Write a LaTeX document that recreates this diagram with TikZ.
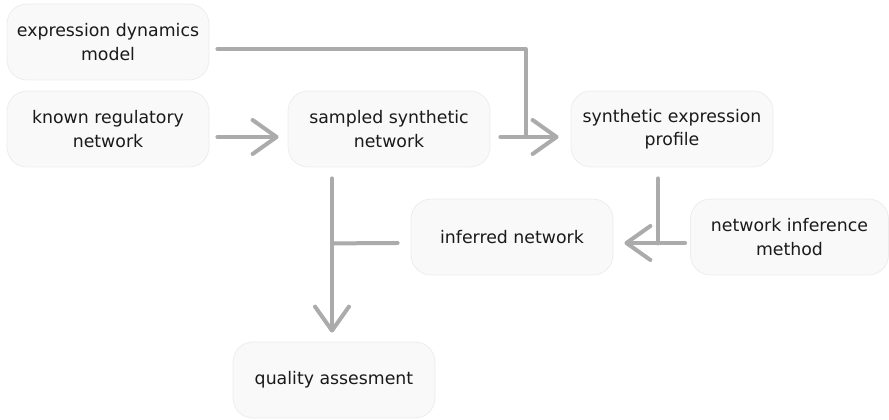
\documentclass[tikz,border=0pt]{standalone}
\usepackage{fontspec}
\setmainfont{DejaVu Sans}
\usetikzlibrary{arrows.meta,calc}
\definecolor{nodefill}{HTML}{F9F9F9}
\definecolor{nodeline}{HTML}{EDEDED}
\definecolor{arrowgray}{HTML}{ABABAB}
\definecolor{txt}{HTML}{1A1A1A}
\tikzset{
  box/.style={draw=nodeline, line width=0.6pt, fill=nodefill, rounded corners=15pt,
    minimum width=151.5pt, minimum height=57pt, align=center, text=txt,
    font=\fontsize{13}{17.4}\selectfont, inner sep=0pt},
  conn/.style={draw=arrowgray, line width=3pt, line cap=round, line join=round},
  arr/.style={conn, -{Straight Barb[length=18pt, width=25.5pt, line cap=round, line join=round]}}
}
\begin{document}
\begin{tikzpicture}[x=0.75pt, y=-0.75pt]
\useasboundingbox (0,0) rectangle (889,420);
\node[box] (edm) at (108,42) {expression dynamics\\model};
\node[box] (krn) at (108,129) {known regulatory\\network};
\node[box] (ssn) at (389,129) {sampled synthetic\\network};
\node[box] (sep) at (672,129) {synthetic expression\\profile};
\node[box] (inf) at (512,237) {inferred network};
\node[box, minimum width=148.5pt] (nim) at (789.5,237) {network inference\\method};
\node[box] (qa) at (334,380) {quality assesment};

\draw[arr] ($(krn.east)+(8,8)$) -- ($(ssn.west)+(-9,8)$);
\draw[conn] ($(edm.east)+(8,7)$) -| ($(sep.west)+(-45,8)$);
\draw[arr] ($(ssn.east)+(10,8)$) -- ($(sep.west)+(-12,8)$);
\draw[conn] ($(sep.south)+(-14,11)$) -- ($(sep.south)+(-14,76)$);
\draw[arr] ($(nim.west)+(-5,6)$) -- ($(inf.east)+(11,6)$);
\draw[arr] ($(ssn.south)+(-57,11)$) -- ($(qa.north)+(-2,-9)$);
\draw[conn] ($(inf.west)+(-13,6)$) -- ($(ssn.south)+(-57,76)$);
\end{tikzpicture}
\end{document}
